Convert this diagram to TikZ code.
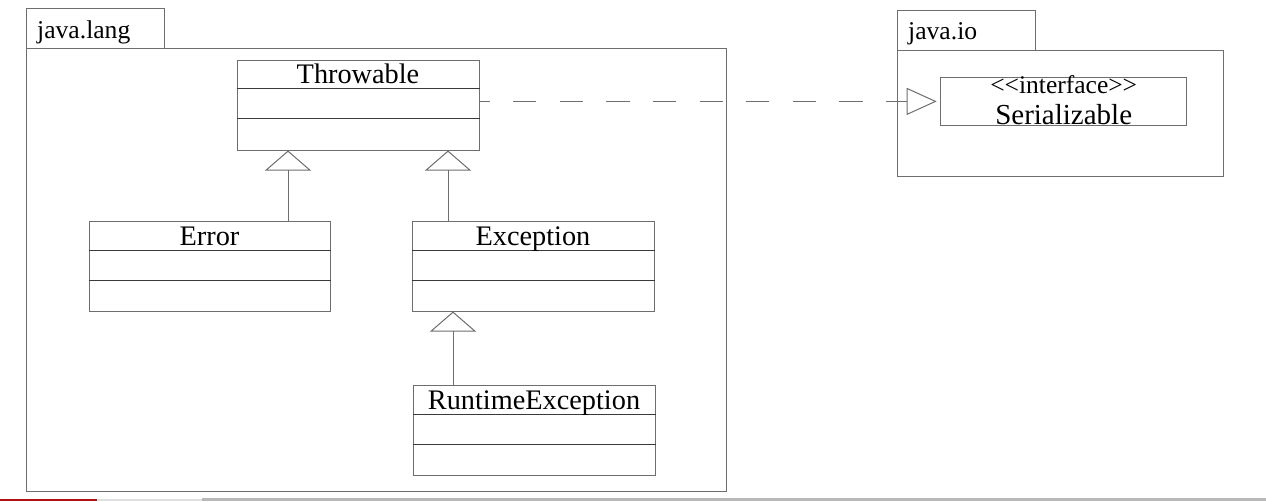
\documentclass[tikz,border=0pt]{standalone}
\usepackage{fontspec}
\setmainfont{Liberation Serif}
\usetikzlibrary{arrows.meta}
\definecolor{boxgray}{HTML}{6E6E6E}
\definecolor{divgray}{HTML}{3A3A3A}
\tikzset{
  pkg/.style={draw=boxgray, line width=1pt, rectangle, inner sep=0pt, anchor=north west},
  clsbox/.style={draw=boxgray, line width=1pt, rectangle, inner sep=0pt, minimum width=242pt, minimum height=90pt},
  divline/.style={draw=divgray, line width=1pt},
  clsname/.style={anchor=base, inner sep=0pt, font=\fontsize{28.3}{30}\selectfont},
  pkgname/.style={anchor=base west, inner sep=0pt, font=\fontsize{25.6}{28}\selectfont},
  gen/.style={draw=boxgray, line width=1pt, -{Triangle[open, length=20pt, width=46pt]}},
  real/.style={draw=boxgray, line width=1pt, dash pattern=on 23.3pt off 23.3pt, dash phase=13pt,
    -{Triangle[open, length=30pt, width=27pt]}, shorten >=3.5pt},
}
\begin{document}
\begin{tikzpicture}[x=1pt, y=-1pt]
\useasboundingbox (0,0) rectangle (1266,501);
\fill[white] (0,0) rectangle (1266,501);

% java.lang package
\node[pkg, minimum width=700pt, minimum height=443pt] (langbody) at (26,48) {};
\node[pkg, minimum width=138pt, minimum height=40pt] (langtab) at (26,8) {};
\node[pkgname] (langlbl) at (37,38) {java.lang};

% java.io package
\node[pkg, minimum width=326pt, minimum height=126pt] (iobody) at (897,50) {};
\node[pkg, minimum width=138pt, minimum height=40pt] (iotab) at (897,10) {};
\node[pkgname] (iolbl) at (908,39) {java.io};

% Throwable
\node[clsbox] (thr) at (358,105) {};
\draw[divline] ([yshift=-29pt]thr.north west) -- ([yshift=-29pt]thr.north east);
\draw[divline] ([yshift=-59pt]thr.north west) -- ([yshift=-59pt]thr.north east);
\node[clsname] (thrl) at ([yshift=-24pt]thr.north) {Throwable};

% Error
\node[clsbox, minimum width=241pt] (err) at (209.5,266) {};
\draw[divline] ([yshift=-30pt]err.north west) -- ([yshift=-30pt]err.north east);
\draw[divline] ([yshift=-60pt]err.north west) -- ([yshift=-60pt]err.north east);
\node[clsname] (errl) at ([yshift=-25pt]err.north) {Error};

% Exception
\node[clsbox] (exc) at (533,266) {};
\draw[divline] ([yshift=-30pt]exc.north west) -- ([yshift=-30pt]exc.north east);
\draw[divline] ([yshift=-60pt]exc.north west) -- ([yshift=-60pt]exc.north east);
\node[clsname] (excl) at ([yshift=-25pt]exc.north) {Exception};

% RuntimeException
\node[clsbox] (rte) at (534,430) {};
\draw[divline] ([yshift=-30pt]rte.north west) -- ([yshift=-30pt]rte.north east);
\draw[divline] ([yshift=-60pt]rte.north west) -- ([yshift=-60pt]rte.north east);
\node[clsname] (rtel) at ([yshift=-25pt]rte.north) {RuntimeException};

% Serializable
\node[draw=boxgray, line width=1pt, rectangle, inner sep=0pt, minimum width=246pt, minimum height=48.7pt] (ser) at (1063.7,101.4) {};
\node[anchor=base, inner sep=0pt, font=\fontsize{25.5}{27}\selectfont] (serst) at ([yshift=-17pt]ser.north) {<{}<interface>{}>};
\node[clsname, font=\fontsize{29}{31}\selectfont] (serl) at ([yshift=-48pt]ser.north) {Serializable};

% generalizations
\draw[gen] ([xshift=78.5pt]err.north) -- ([xshift=-70pt]thr.south);
\draw[gen] ([xshift=-85pt]exc.north) -- ([xshift=90pt]thr.south);
\draw[gen] ([xshift=-81pt]rte.north) -- ([xshift=-80pt]exc.south);

% realization
\draw[real] (thr.east |- ser.west) -- (ser.west);

% bottom strip
\draw[draw={rgb,255:red,176;green,16;blue,16}, line width=1.5pt] (0,499.8) -- (97,499.8);
\draw[draw=black!12, line width=1.5pt] (97,499.8) -- (202,499.8);
\draw[draw=black!28, line width=3pt] (202,499.8) -- (1266,499.8);
\end{tikzpicture}
\end{document}
